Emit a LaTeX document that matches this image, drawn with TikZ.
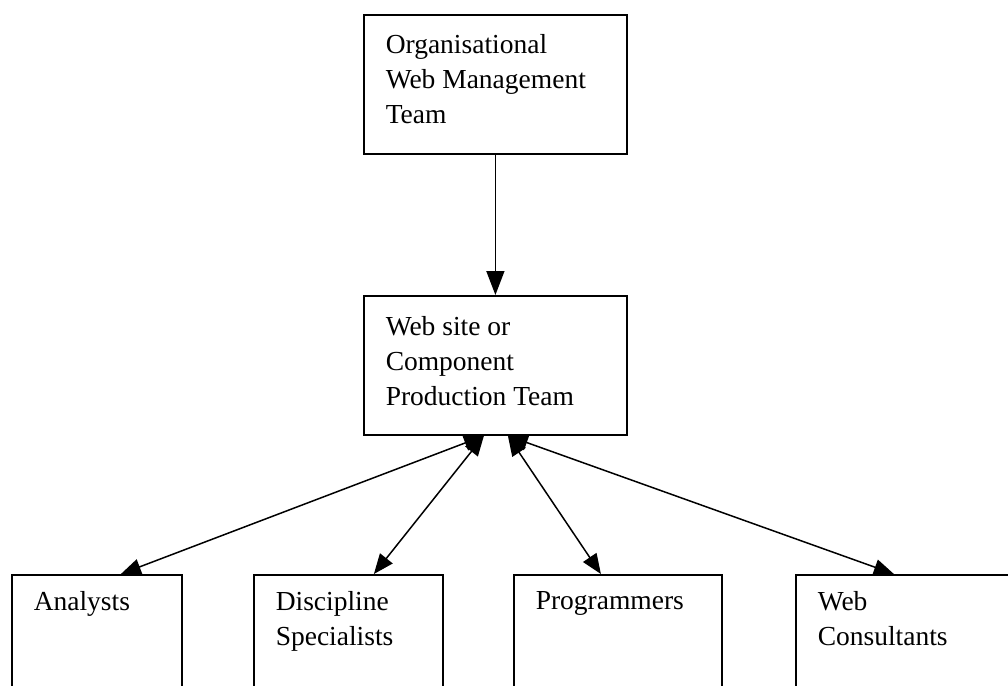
\documentclass[tikz,border=0pt]{standalone}
\usepackage{fontspec}
\setmainfont{Liberation Serif}
\usetikzlibrary{arrows.meta,positioning}
\tikzset{
  box/.style={draw,line width=1.8pt,rectangle,inner sep=0pt,anchor=north west},
  txt/.style={align=left,inner sep=0pt,anchor=north west,font=\fontsize{27.5}{35}\selectfont},
  tip/.style={-{Triangle[length=24pt,width=18pt]}},
  dtip/.style={{Triangle[length=20pt,width=16pt]}-{Triangle[length=20pt,width=16pt]}},
}
\begin{document}
\begin{tikzpicture}[x=1pt,y=-1pt,line width=1.5pt]
  \useasboundingbox (0,0) rectangle (1008,685);
  \clip (0,0) rectangle (1008,685);
  % management and production teams
  \path node[box,minimum width=263pt,minimum height=139pt] (O) at (363,14) {}
        node[box,minimum width=263pt,minimum height=139pt] (P) at (363,295) {};
  % the four groups, cut off at the bottom
  \path node[box,minimum width=170pt,minimum height=160pt] (A) at (11,574) {}
        node[box,minimum width=189pt,minimum height=160pt] (D) at (253,574) {}
        node[box,minimum width=208pt,minimum height=160pt] (G) at (513,574) {}
        node[box,minimum width=225pt,minimum height=160pt] (C) at (795,574) {};
  \node[txt] (Ot) at ([shift={(22,20)}]O.north west) {Organisational\\Web Management\\Team};
  \node[txt] (Pt) at ([shift={(22,21)}]P.north west) {Web site or\\Component\\Production Team};
  \node[txt] (At) at ([shift={(22,17)}]A.north west) {Analysts};
  \node[txt] (Dt) at ([shift={(22,17)}]D.north west) {Discipline\\Specialists};
  \node[txt] (Gt) at ([shift={(22,17)}]G.north west) {Programmers};
  \node[txt] (Ct) at ([shift={(22,17)}]C.north west) {Web\\Consultants};
  \draw[tip] (O.south) -- (P.north);
  \draw[dtip] ([xshift=-11.5pt]P.south) -- ([xshift=24pt]A.north);
  \draw[dtip] ([xshift=-11.5pt]P.south) -- ([xshift=25.5pt]D.north);
  \draw[dtip] ([xshift=12.5pt]P.south) -- ([xshift=-17pt]G.north);
  \draw[dtip] ([xshift=12.5pt]P.south) -- ([xshift=-14.5pt]C.north);
\end{tikzpicture}
\end{document}
